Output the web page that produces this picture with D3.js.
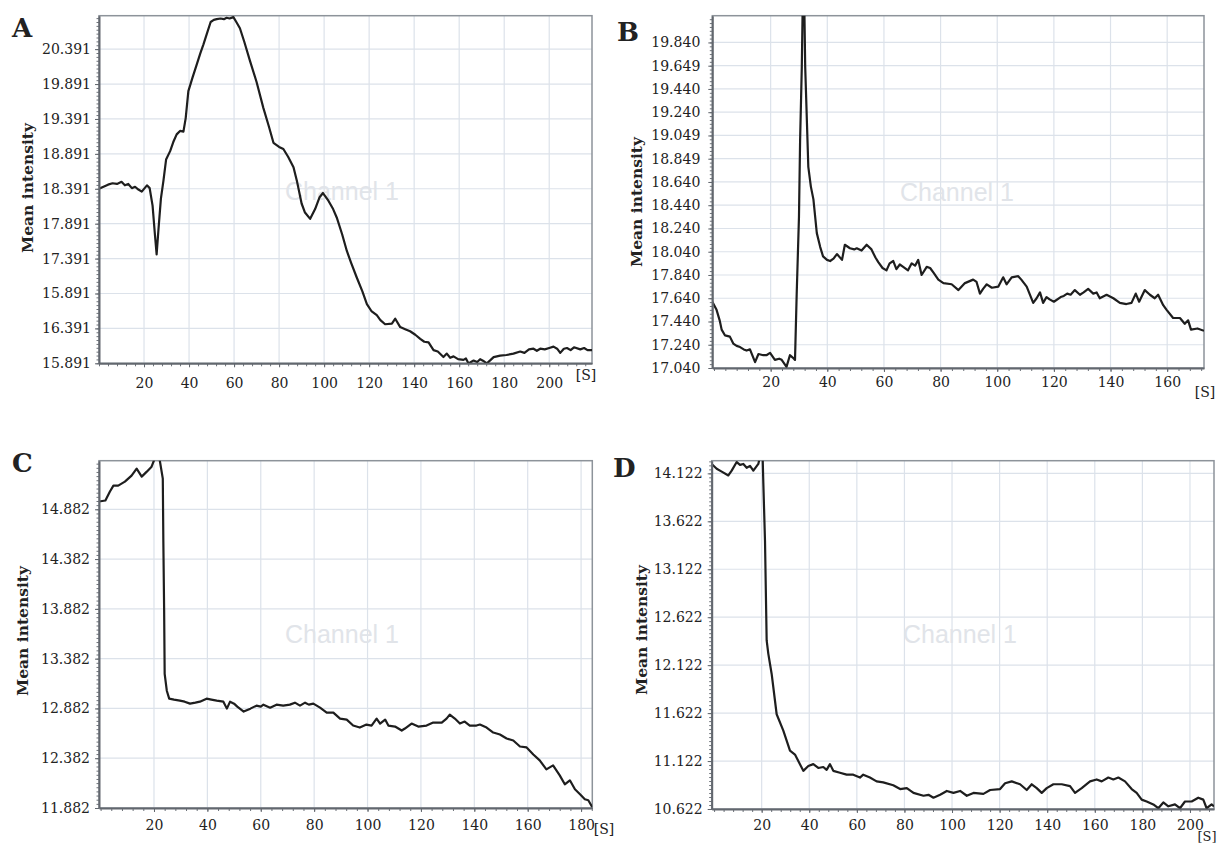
<!DOCTYPE html>
<html>
<head>
<meta charset="utf-8">
<title>Mean intensity over time</title>
<script src="https://cdn.jsdelivr.net/npm/d3@7"></script>
<style>
body {margin:0; background:#fff;}
svg text {font-family:"DejaVu Serif", serif; fill:#222;}
.tick text {font-size:14px;}
.letter {font-weight:bold; font-size:26px;}
.ylab {font-weight:bold; font-size:15.5px;}
.unit {font-size:14px;}
.water {font-family:"Liberation Sans", Arial, sans-serif !important; font-size:25px; fill:#e1e4e9 !important;}
</style>
</head>
<body>
<svg width="1217" height="844"></svg>
<script>
// ---- panel A ----
var aTime = [0,2,4,6,8,10,11.5,13,14.6,16,17.5,19,21.3,22.5,23.8,24.8,25.6,26.4,27.5,28.6,29.8,31.6,33,34.5,36,37.5,38.5,39.7,41.5,43.4,45,46.4,48,49.6,51,52.3,54,55.5,56.7,58,59.7,61,62.6,64.5,67.1,70,73,75.5,77.5,80,81.9,84,86.4,88,90,91.5,93.8,96,98,99.5,101.9,104,105.6,108,110.1,112,114.5,117,119,121,123.4,125,127.1,130.1,131.6,133.8,136,138.2,140.5,142.7,144.5,146.4,148.6,150.5,153,154.5,156,157.5,159.5,161.9,163,164.1,166.4,168,169.3,171,172.3,174,175.3,178.2,181,184.1,187.1,189,191,193,194.5,196,198,200,201.9,203.5,204.9,206.5,207.9,209.5,211,213.8,215.5,217,219];
var aMean = [18.39,18.42,18.45,18.47,18.46,18.49,18.44,18.46,18.40,18.42,18.38,18.35,18.44,18.40,18.15,17.75,17.45,17.80,18.25,18.50,18.81,18.93,19.06,19.17,19.22,19.21,19.40,19.79,19.98,20.17,20.33,20.46,20.62,20.78,20.81,20.82,20.83,20.82,20.84,20.83,20.85,20.78,20.69,20.50,20.22,19.92,19.55,19.28,19.05,18.99,18.96,18.85,18.70,18.49,18.18,18.05,17.96,18.10,18.27,18.33,18.22,18.10,17.98,17.74,17.50,17.33,17.12,16.92,16.74,16.64,16.58,16.51,16.45,16.46,16.53,16.41,16.38,16.35,16.30,16.24,16.20,16.19,16.08,16.06,15.98,16.03,15.97,15.99,15.95,15.94,15.96,15.89,15.93,15.91,15.95,15.92,15.89,15.94,15.98,16.00,16.01,16.03,16.06,16.04,16.09,16.10,16.07,16.10,16.09,16.11,16.13,16.10,16.04,16.10,16.11,16.08,16.12,16.09,16.11,16.08,16.08];
var aXRange = [0, 219];
var aYRange = [15.891, 20.87];
var aXTicks = [20,40,60,80,100,120,140,160,180,200];
var aYTicks = [15.891,16.391,16.891,17.391,17.891,18.391,18.891,19.391,19.891,20.391];
var aYLabels = ["15.891","16.391","15.891","17.391","17.891","18.391","18.891","19.391","19.891","20.391"];

// ---- panel B ----
var bTime = [-0.6,0.9,2,2.7,3.9,5.6,6.8,8,9.2,10.5,11.5,12.7,14.5,15.7,17.4,18.5,19.8,21.5,23,23.9,25.6,26.8,27.8,28.6,29.2,30,30.4,31,31.4,31.8,32.2,33.3,34.2,35.1,36.3,37.5,38.5,39.9,41,42.2,43.4,45.2,46.2,48,49.5,50.4,52.1,53.9,55.6,57,58,59.5,60.9,62,63.3,64.4,65.6,66.8,68.5,69.8,71,72.1,73.3,75.1,76.3,77.5,79.2,81,83.9,86.3,88.6,91.5,92.7,93.9,95,96.3,98.1,100.4,102.1,103.3,105.1,107.4,108.5,110.4,112.7,113.9,115.1,116.2,117.4,118.5,120,122.4,123.5,124.7,125.9,127.4,129.2,130.5,132.1,133.9,135.1,136.2,138.6,141,143.3,145.6,147.4,148.9,150.1,152.1,153.9,155.6,156.8,158.6,159.8,162.1,164.5,166.2,167.4,168.4,170.7,173];
var bMean = [17.61,17.54,17.45,17.37,17.32,17.31,17.25,17.23,17.22,17.20,17.19,17.20,17.09,17.16,17.15,17.15,17.17,17.11,17.12,17.11,17.05,17.15,17.13,17.11,17.68,18.34,19.00,19.63,20.30,20.30,19.63,18.77,18.60,18.49,18.20,18.08,18.00,17.97,17.96,17.98,18.02,17.97,18.10,18.07,18.06,18.07,18.05,18.10,18.06,17.99,17.95,17.90,17.88,17.94,17.96,17.89,17.93,17.91,17.88,17.94,17.92,17.97,17.84,17.91,17.90,17.86,17.80,17.77,17.76,17.71,17.77,17.80,17.78,17.68,17.72,17.76,17.73,17.74,17.82,17.76,17.82,17.83,17.80,17.74,17.60,17.64,17.69,17.60,17.65,17.63,17.61,17.65,17.66,17.68,17.67,17.71,17.67,17.69,17.72,17.68,17.69,17.64,17.67,17.64,17.60,17.59,17.60,17.68,17.61,17.71,17.67,17.64,17.67,17.58,17.54,17.47,17.47,17.42,17.45,17.37,17.38,17.36];
var bXRange = [-0.6, 173];
var bYRange = [17.04, 20.07];
var bXTicks = [20,40,60,80,100,120,140,160];
var bYTicks = [17.04,17.24,17.44,17.64,17.84,18.04,18.24,18.44,18.64,18.84,19.04,19.24,19.44,19.64,19.84];
var bYLabels = ["17.040","17.240","17.440","17.640","17.840","18.040","18.240","18.440","18.640","18.849","19.049","19.240","19.440","19.649","19.840"];

// ---- panel C ----
var cTime = [-0.6,1.8,3.5,4.8,6.6,9.1,11.6,13.5,15.4,17.3,19.1,20.4,22,23.3,23.5,23.8,24,24.8,25.7,27.5,29.7,31.5,33.5,35.5,37.2,39.7,41.5,43.5,46,47.3,48.5,50,51.2,53.6,56.1,58.4,60,61,63.5,65.9,68.4,70.9,72.8,74.7,76.6,78,79.7,82.2,84.7,87.2,89.7,92.2,94.6,97.1,99.6,101.5,103.4,104.7,106.6,107.8,110.3,112.8,114,116.5,119,122.1,124.6,127.8,129.6,130.8,132.7,134.6,136.4,138.3,140.8,142.1,144.6,147.1,149.6,152.1,154.6,157.1,159.6,162.1,164.5,167,169.5,172,173.9,175.8,177.7,179.6,181.4,182.7,184.2];
var cMean = [14.96,14.97,15.06,15.12,15.12,15.16,15.22,15.29,15.21,15.26,15.31,15.40,15.40,15.19,14.57,13.87,13.23,13.06,12.98,12.97,12.96,12.95,12.93,12.94,12.95,12.98,12.97,12.96,12.95,12.88,12.95,12.93,12.90,12.85,12.88,12.91,12.90,12.92,12.89,12.92,12.91,12.92,12.94,12.91,12.94,12.92,12.93,12.89,12.84,12.84,12.78,12.77,12.71,12.69,12.72,12.71,12.78,12.73,12.77,12.71,12.70,12.66,12.68,12.73,12.70,12.71,12.74,12.74,12.78,12.82,12.78,12.73,12.75,12.71,12.71,12.72,12.69,12.64,12.62,12.58,12.56,12.50,12.49,12.42,12.36,12.27,12.31,12.21,12.12,12.16,12.07,12.02,11.97,11.96,11.89];
var cXRange = [-0.6, 184.2];
var cYRange = [11.882, 15.37];
var cXTicks = [20,40,60,80,100,120,140,160,180];
var cYTicks = [11.882,12.382,12.882,13.382,13.882,14.382,14.882];
var cYLabels = ["11.882","12.382","12.882","13.382","13.882","14.382","14.882"];

// ---- panel D ----
var dTime = [-1,1.1,3.2,6,7.4,9.5,10.9,12.3,13.7,15.1,16.5,18.6,19.3,20.4,20.7,21.4,22.1,22.8,24.2,26.3,29.1,31.9,34,37.5,39.6,41.7,43.8,45.9,47.3,48.7,50.1,52.9,55.7,58.5,61.3,62.7,65.5,68.3,71.1,75.3,78.2,81,83.8,88,90.1,92.2,95,97.8,100.6,103.4,106.2,109,113.2,116,120.2,122.3,125.1,128.6,131.4,133.5,135.6,137.7,139.8,142.6,146.1,149.6,151.7,154.5,158,160.8,162.9,165.7,167.8,169.9,172.7,175.5,177.6,179.7,181.8,184.6,186.7,188.8,190.9,193.7,195.8,197.9,200.7,203.5,205.6,207,209.1,210.1];
var dMean = [14.22,14.17,14.14,14.10,14.15,14.24,14.21,14.22,14.18,14.20,14.15,14.22,14.30,14.30,14.02,13.42,12.38,12.24,12.03,11.61,11.44,11.23,11.19,11.02,11.07,11.09,11.05,11.06,11.03,11.09,11.02,11.00,10.98,10.98,10.95,10.98,10.95,10.91,10.90,10.87,10.83,10.84,10.79,10.76,10.77,10.74,10.77,10.81,10.79,10.81,10.76,10.79,10.78,10.82,10.83,10.89,10.91,10.88,10.82,10.88,10.84,10.79,10.84,10.88,10.88,10.86,10.79,10.84,10.91,10.93,10.91,10.95,10.93,10.95,10.91,10.83,10.79,10.72,10.70,10.67,10.63,10.69,10.65,10.67,10.63,10.70,10.70,10.74,10.72,10.63,10.67,10.65];
var dXRange = [-1, 210.1];
var dYRange = [10.622, 14.254];
var dXTicks = [20,40,60,80,100,120,140,160,180,200];
var dYTicks = [10.622,11.122,11.622,12.122,12.622,13.122,13.622,14.122];
var dYLabels = ["10.622","11.122","11.622","12.122","12.622","13.122","13.622","14.122"];

var svg = d3.select("svg");

var panels = [
  {id:"A", t:aTime, v:aMean, xr:aXRange, yr:aYRange, xt:aXTicks, yt:aYTicks, yl:aYLabels,
   box:[99,15.7,592,363.3], letter:[12,37], ylab:[27,188], unit:[586,380], uSize:14, uAnchor:"middle",
   water:[285,200], xPad:11, yPad:8},
  {id:"B", t:bTime, v:bMean, xr:bXRange, yr:bYRange, xt:bXTicks, yt:bYTicks, yl:bYLabels,
   box:[712.3,15.7,1204,368], letter:[617,41], ylab:[636,202], unit:[1205,397], uSize:14, uAnchor:"middle",
   water:[900,201], xPad:5, yPad:12},
  {id:"C", t:cTime, v:cMean, xr:cXRange, yr:cYRange, xt:cXTicks, yt:cYTicks, yl:cYLabels,
   box:[99,460.7,592.3,808], letter:[12,472], ylab:[22,631], unit:[604,834], uSize:14, uAnchor:"middle",
   water:[285,643], xPad:8, yPad:9},
  {id:"D", t:dTime, v:dMean, xr:dXRange, yr:dYRange, xt:dXTicks, yt:dYTicks, yl:dYLabels,
   box:[711.7,460.7,1214,809], letter:[613,477], ylab:[641,630], unit:[1216.5,841], uSize:13, uAnchor:"end",
   water:[903,643], xPad:7, yPad:9}
];

panels.forEach(function(p) {
  var L = p.box[0], T = p.box[1], R = p.box[2], B = p.box[3];
  var x = d3.scaleLinear().domain(p.xr).range([L, R]);
  var y = d3.scaleLinear().domain(p.yr).range([B, T]);
  var g = svg.append("g");

  // grid
  g.selectAll(".vg").data(p.xt).enter().append("line")
    .attr("x1", function(d) { return x(d); }).attr("x2", function(d) { return x(d); })
    .attr("y1", T).attr("y2", B)
    .attr("stroke", "#dce2ea").attr("stroke-width", 1.2);
  g.selectAll(".hg").data(p.yt).enter().append("line")
    .attr("x1", L).attr("x2", R)
    .attr("y1", function(d) { return y(d); }).attr("y2", function(d) { return y(d); })
    .attr("stroke", "#dce2ea").attr("stroke-width", 1.2);

  // watermark
  g.append("text").attr("class", "water")
    .attr("x", p.water[0]).attr("y", p.water[1]).text("Channel 1");

  // frame
  g.append("rect").attr("x", L).attr("y", T).attr("width", R - L).attr("height", B - T)
    .attr("fill", "none").attr("stroke", "#8d939a").attr("stroke-width", 1.5);

  // curve
  svg.append("clipPath").attr("id", "clip" + p.id)
    .append("rect").attr("x", L).attr("y", T).attr("width", R - L).attr("height", B - T);
  var line = d3.line().x(function(d) { return x(d[0]); }).y(function(d) { return y(d[1]); });
  g.append("path")
    .datum(p.t.map(function(t, i) { return [t, p.v[i]]; }))
    .attr("clip-path", "url(#clip" + p.id + ")")
    .attr("d", line)
    .attr("fill", "none").attr("stroke", "#1e1e1e").attr("stroke-width", 2.2)
    .attr("stroke-linejoin", "round");

  // minor ticks
  var minorX = d3.range(0, p.xr[1], 4);
  g.append("g").attr("transform", "translate(0," + B + ")")
    .call(d3.axisBottom(x).tickValues(minorX).tickSize(3).tickFormat(""))
    .call(function(s) { s.select(".domain").remove(); s.selectAll("line").attr("stroke", "#6c7178"); });
  var minorY = [];
  var step = (p.yt[1] - p.yt[0]);
  var n = Math.max(4, Math.round((y(p.yt[0]) - y(p.yt[1])) / 4));
  for (var v = p.yr[0]; v <= p.yr[1] + 1e-9; v += step / n) minorY.push(v);
  g.append("g").attr("transform", "translate(" + L + ",0)")
    .call(d3.axisLeft(y).tickValues(minorY).tickSize(2.5).tickFormat(""))
    .call(function(s) { s.select(".domain").remove(); s.selectAll("line").attr("stroke", "#6c7178"); });

  // major axes
  g.append("g").attr("transform", "translate(0," + B + ")")
    .call(d3.axisBottom(x).tickValues(p.xt).tickSize(4).tickPadding(p.xPad).tickSizeOuter(0))
    .call(function(s) {
      s.select(".domain").attr("stroke", "#62676e").attr("stroke-width", 2);
      s.selectAll("line").attr("stroke", "#62676e");
      s.selectAll("text").attr("font-family", "DejaVu Serif").attr("font-size", 14).attr("fill", "#222");
    });
  g.append("g").attr("transform", "translate(" + L + ",0)")
    .call(d3.axisLeft(y).tickValues(p.yt).tickSize(4).tickPadding(p.yPad - 4).tickSizeOuter(0)
      .tickFormat(function(d, i) { return p.yl[i]; }))
    .call(function(s) {
      s.select(".domain").attr("stroke", "#62676e").attr("stroke-width", 2);
      s.selectAll("line").attr("stroke", "#62676e");
      s.selectAll("text").attr("font-family", "DejaVu Serif").attr("font-size", 14).attr("fill", "#222");
    });

  // labels
  svg.append("text").attr("class", "letter").attr("x", p.letter[0]).attr("y", p.letter[1]).text(p.id);
  svg.append("text").attr("class", "ylab")
    .attr("transform", "translate(" + p.ylab[0] + "," + p.ylab[1] + ") rotate(-90)")
    .attr("text-anchor", "middle").attr("dominant-baseline", "central")
    .text("Mean intensity");
  svg.append("text").attr("class", "unit")
    .attr("x", p.unit[0]).attr("y", p.unit[1])
    .attr("text-anchor", p.uAnchor).style("font-size", p.uSize + "px")
    .text("[S]");
});
</script>
</body>
</html>
